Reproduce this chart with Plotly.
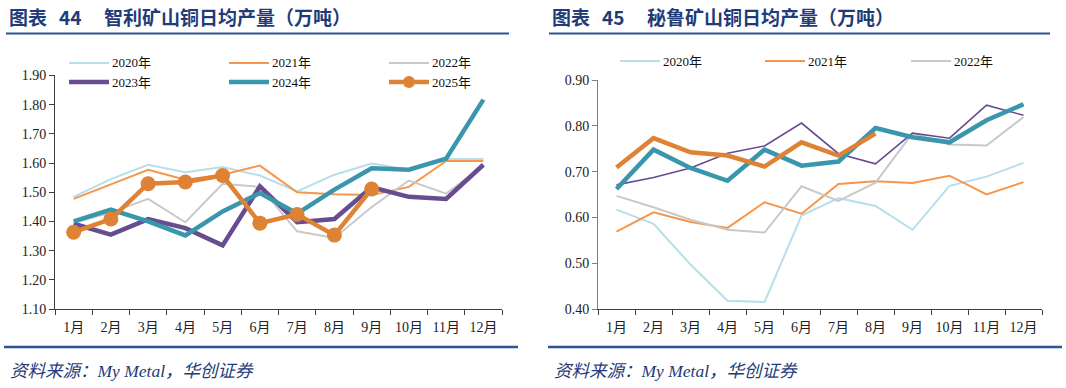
import plotly.graph_objects as go

W, H = 1066, 388

months = ["1月", "2月", "3月", "4月", "5月", "6月", "7月", "8月", "9月", "10月", "11月", "12月"]
years = ["2020年", "2021年", "2022年", "2023年", "2024年", "2025年"]

# Chile daily average copper mine output (10k t)
chile_2020 = [1.484, 1.545, 1.594, 1.568, 1.586, 1.557, 1.503, 1.560, 1.598, 1.577, 1.614, 1.614]
chile_2021 = [1.477, 1.526, 1.577, 1.543, 1.560, 1.591, 1.500, 1.493, 1.490, 1.518, 1.607, 1.607]
chile_2022 = [1.395, 1.430, 1.477, 1.397, 1.529, 1.518, 1.366, 1.343, 1.449, 1.540, 1.495, 1.590]
chile_2023 = [1.392, 1.355, 1.408, 1.377, 1.318, 1.520, 1.397, 1.408, 1.517, 1.484, 1.477, 1.594]
chile_2024 = [1.400, 1.440, 1.400, 1.352, 1.434, 1.497, 1.427, 1.509, 1.582, 1.577, 1.615, 1.817]
chile_2025 = [1.363, 1.408, 1.529, 1.535, 1.557, 1.394, 1.424, 1.353, 1.511]

# Peru daily average copper mine output (10k t)
peru_2020 = [0.617, 0.586, 0.497, 0.418, 0.415, 0.604, 0.642, 0.625, 0.573, 0.669, 0.689, 0.719]
peru_2021 = [0.569, 0.611, 0.590, 0.577, 0.633, 0.608, 0.673, 0.679, 0.675, 0.691, 0.650, 0.677]
peru_2022 = [0.647, 0.622, 0.595, 0.573, 0.567, 0.668, 0.636, 0.676, 0.784, 0.759, 0.757, 0.819]
peru_2023 = [0.671, 0.687, 0.708, 0.740, 0.756, 0.806, 0.739, 0.717, 0.784, 0.773, 0.845, 0.823]
peru_2024 = [0.662, 0.748, 0.708, 0.680, 0.748, 0.713, 0.722, 0.795, 0.775, 0.764, 0.812, 0.847]
peru_2025 = [0.709, 0.773, 0.742, 0.735, 0.711, 0.764, 0.735, 0.783]

colors = ["#B7DEEA", "#F6964C", "#C9C9C9", "#674C8F", "#3A96AC", "#DE8236"]
NAVY = "#1F3C78"
RULE = "#2E5496"
SERIF = "Liberation Serif, Noto Sans CJK SC"
TICKFONT = dict(family=SERIF, size=14, color="#222222")


def px(x):
    return x / W


def py(y):
    return 1 - y / H


fig = go.Figure()

left_series = [chile_2020, chile_2021, chile_2022, chile_2023, chile_2024, chile_2025]
left_widths = [2, 2, 2, 4.5, 4.5, 4.5]
for i, vals in enumerate(left_series):
    mode = "lines+markers" if i == 5 else "lines"
    fig.add_trace(go.Scatter(
        x=months[:len(vals)], y=vals, mode=mode, name=years[i],
        line=dict(color=colors[i], width=left_widths[i]),
        marker=dict(size=15, color=colors[i]),
        xaxis="x", yaxis="y", showlegend=False))

right_series = [peru_2020, peru_2021, peru_2022, peru_2023, peru_2024, peru_2025]
right_widths = [2, 2, 2, 1.6, 4.5, 4.5]
for i, vals in enumerate(right_series):
    fig.add_trace(go.Scatter(
        x=months[:len(vals)], y=vals, mode="lines", name=years[i],
        line=dict(color=colors[i], width=right_widths[i]),
        xaxis="x2", yaxis="y2", showlegend=False))

xcommon = dict(type="category", categoryorder="array", categoryarray=months,
               range=[-0.5, 11.5], showgrid=False, showline=True, linecolor="#404040",
               linewidth=1, ticks="outside", tickson="boundaries", ticklen=5,
               tickcolor="#404040", tickfont=TICKFONT, automargin=False, zeroline=False,
               ticklabelstandoff=5)
ycommon = dict(showgrid=False, showline=True, linewidth=1, ticks="outside", ticklen=5,
               dtick=0.1, tickformat=".2f", tickfont=TICKFONT, automargin=False, zeroline=False)

fig.update_layout(
    width=W, height=H, margin=dict(l=0, r=0, t=0, b=0),
    paper_bgcolor="white", plot_bgcolor="white",
    xaxis=dict(domain=[px(55), px(502)], anchor="y", **xcommon),
    yaxis=dict(domain=[py(309), py(75.4)], anchor="x", range=[1.10, 1.90],
               linecolor="#404040", tickcolor="#404040", **ycommon),
    xaxis2=dict(domain=[px(598), px(1042)], anchor="y2", **xcommon),
    yaxis2=dict(domain=[py(309), py(80)], anchor="x2", range=[0.40, 0.90],
                linecolor="#808080", tickcolor="#808080", **ycommon),
)

shapes = []
annotations = []

TFONT = dict(family="Noto Sans CJK SC", size=19, color=NAVY)
# Titles and rules
for x0, x1, num, text in [(7, 509, "44", "智利矿山铜日均产量（万吨）"),
                          (550, 1050, "45", "秘鲁矿山铜日均产量（万吨）")]:
    for dx, t in [(0, "图表"), (50, num), (95, text)]:
        annotations.append(dict(x=px(x0 + dx), y=py(17), xref="paper", yref="paper",
                                xanchor="left", yanchor="middle", showarrow=False,
                                text="<b>" + t + "</b>", font=TFONT))
    shapes.append(dict(type="line", xref="paper", yref="paper", x0=px(x0 - 1), x1=px(x1),
                       y0=py(33.5), y1=py(33.5), line=dict(color=RULE, width=2)))

# Bottom rules and footers
for x0, x1 in [(4, 518), (548, 1062)]:
    shapes.append(dict(type="line", xref="paper", yref="paper", x0=px(x0), x1=px(x1),
                       y0=py(347), y1=py(347), line=dict(color=RULE, width=2.5)))
    annotations.append(dict(x=px(x0 + 4), y=py(371), xref="paper", yref="paper", xanchor="left",
                            yanchor="middle", showarrow=False,
                            text="<i>资料来源：My Metal，华创证券</i>",
                            font=dict(family=SERIF, size=17.5, color=NAVY)))

LEGFONT = dict(family=SERIF, size=13, color="#111111")


def legend_item(x0, y, i, width):
    shapes.append(dict(type="line", xref="paper", yref="paper", x0=px(x0), x1=px(x0 + 40),
                       y0=py(y), y1=py(y), line=dict(color=colors[i], width=width)))
    annotations.append(dict(x=px(x0 + 41), y=py(y), xref="paper", yref="paper",
                            xanchor="left", yanchor="middle", showarrow=False,
                            text=years[i], font=LEGFONT))


# Left legend (2 rows x 3 cols)
lcols = [69, 229, 389]
for i in range(6):
    row, col = divmod(i, 3)
    y = 63 if row == 0 else 82
    legend_item(lcols[col], y, i, left_widths[i])
    if i == 5:
        cx = lcols[col] + 20
        shapes.append(dict(type="circle", xref="paper", yref="paper",
                           x0=px(cx - 6), x1=px(cx + 6), y0=py(y + 6), y1=py(y - 6),
                           fillcolor=colors[5], line=dict(color=colors[5], width=0)))

# Right legend (only first row visible)
rcols = [620, 765, 911]
for i in range(3):
    legend_item(rcols[i], 61, i, right_widths[i])

fig.update_layout(shapes=shapes, annotations=annotations)

fig.write_html("out.html")
